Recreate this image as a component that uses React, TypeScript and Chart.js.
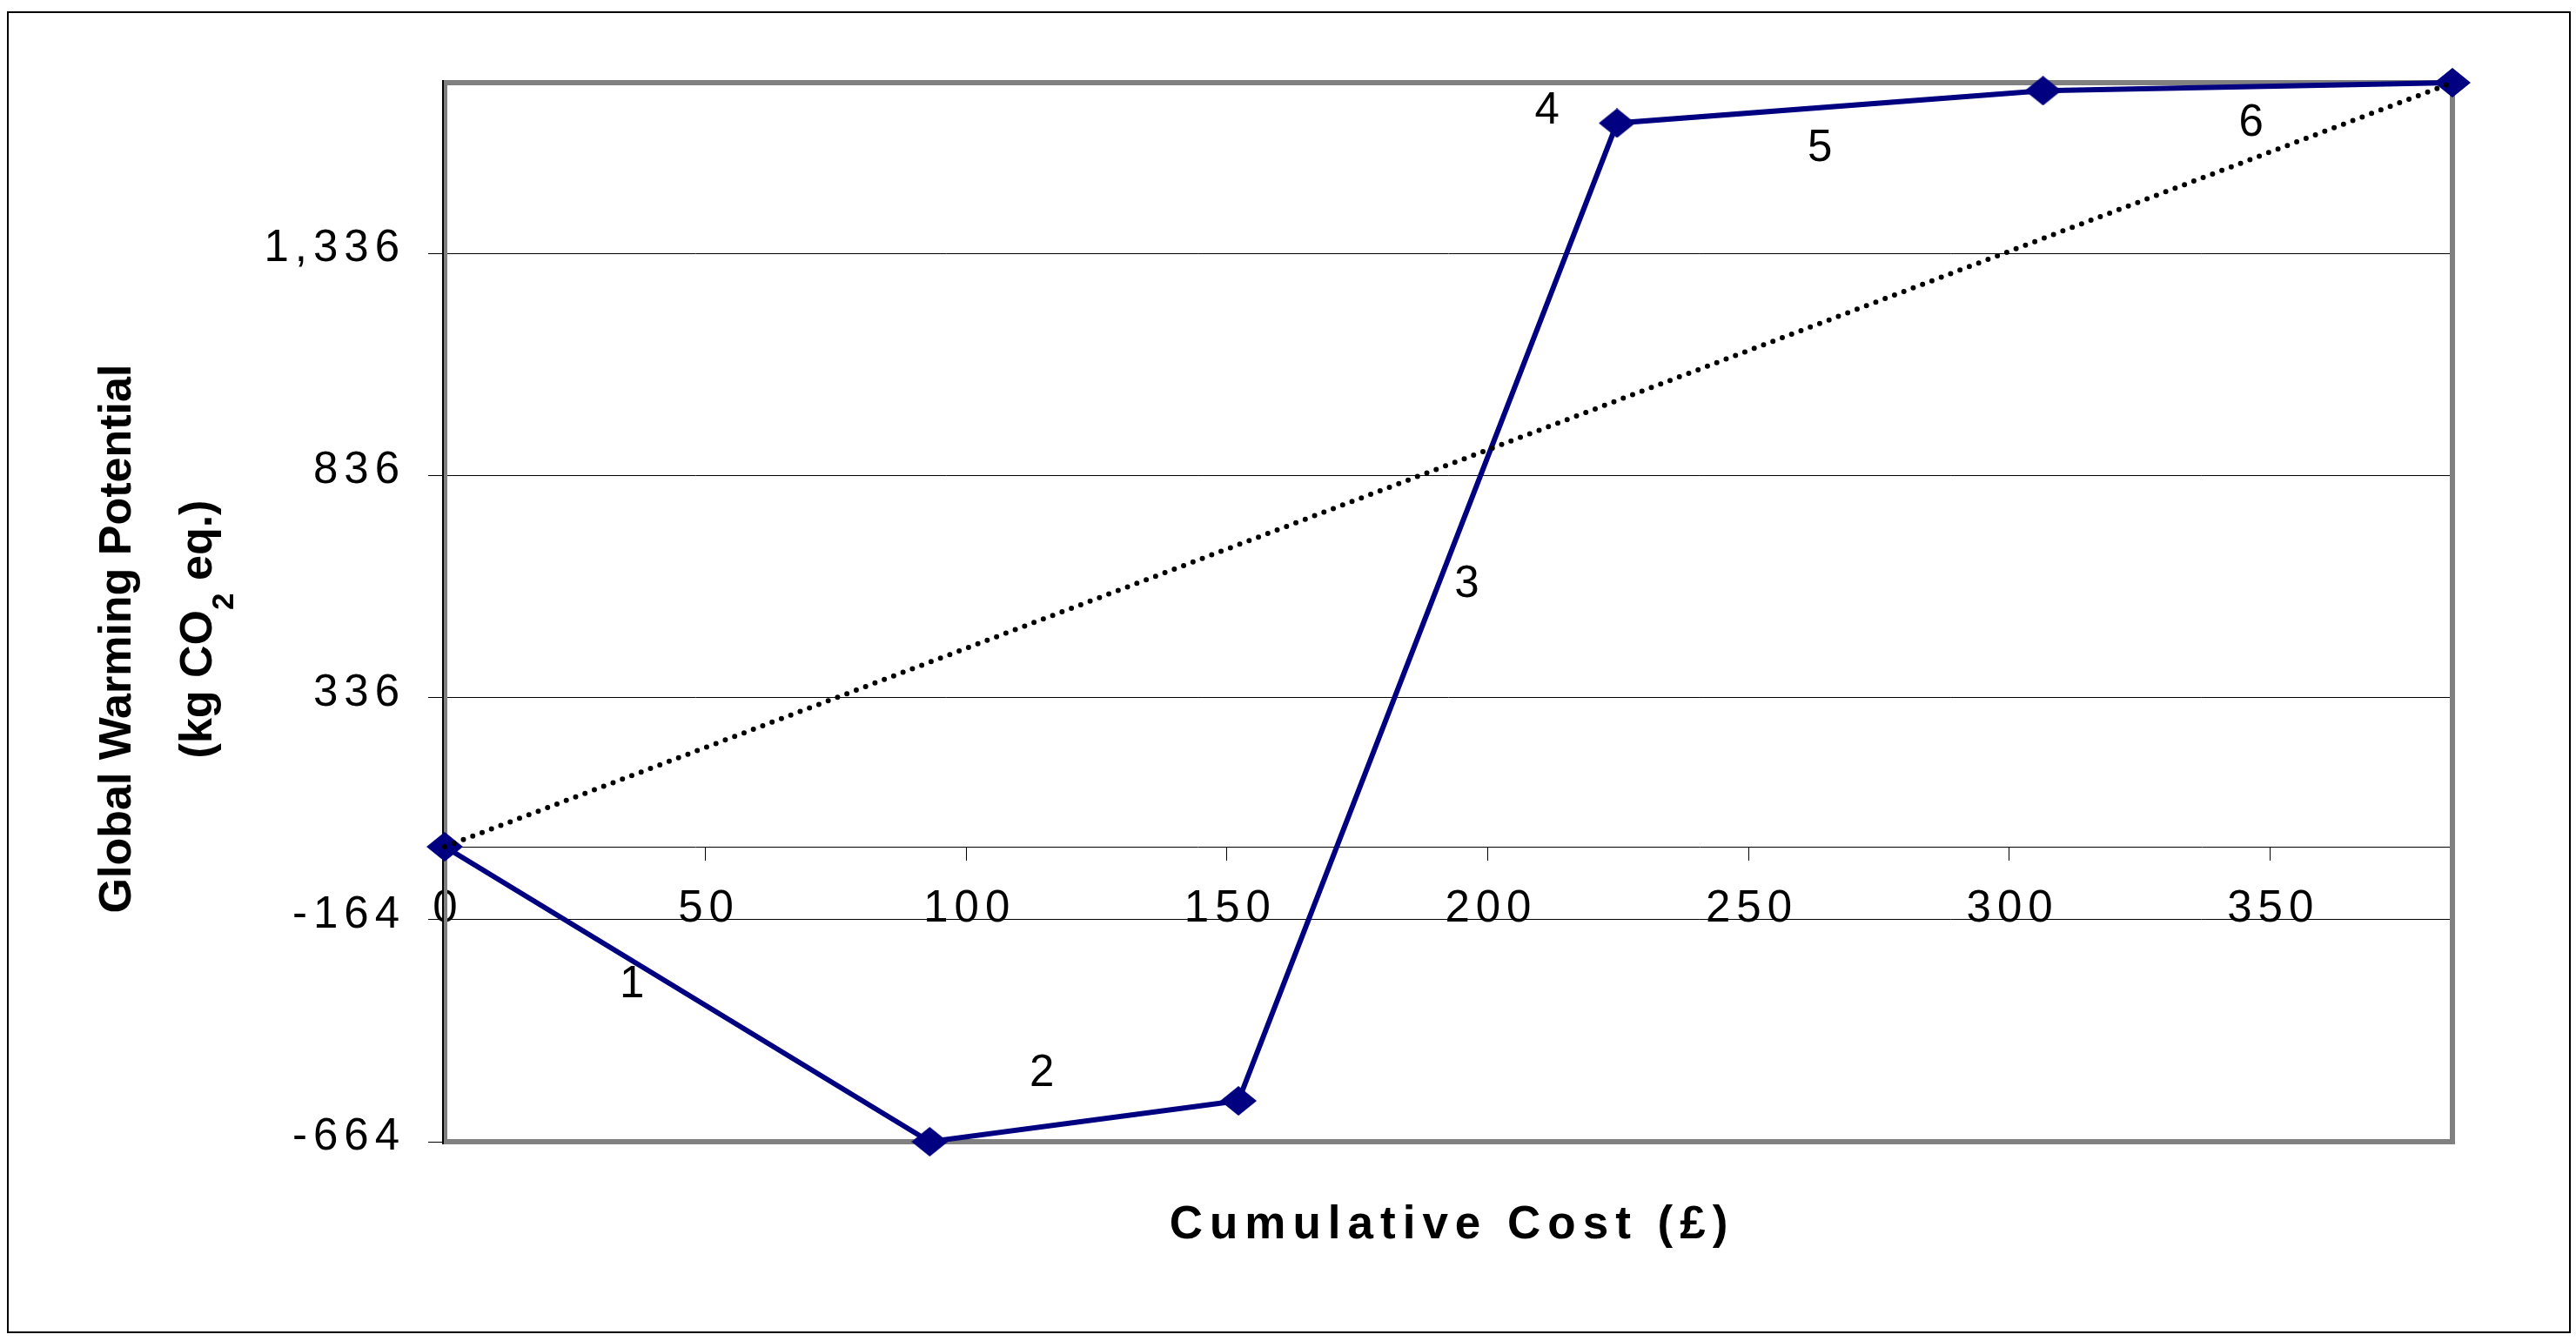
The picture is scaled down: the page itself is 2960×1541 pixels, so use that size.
import React, { useEffect, useRef } from "react";
import { Chart, registerables } from "chart.js";

Chart.register(...registerables);

// ---- Data ----
const cumulativeCost = [0, 93, 152.2, 224.8, 306.5, 385];
const globalWarming = [0, -664, -572, 1629, 1702, 1720];

const yTickValues = [-664, -164, 336, 836, 1336];
const xTickValues = [0, 50, 100, 150, 200, 250, 300, 350];

const segmentLabels = ["1", "2", "3", "4", "5", "6"];
const segmentLabelCost = [35.9, 114.5, 196, 211.4, 263.7, 346.4];
const segmentLabelGwp = [-311, -511, 589, 1655, 1571, 1628];

const xAxisTitle = "Cumulative Cost (£)";
const yAxisTitleLine1 = "Global Warming Potential";
const yAxisTitleLine2Parts = ["(kg CO", "2", " eq.)"];

const X_MIN = 0;
const X_MAX = 385;
const Y_MIN = -664;
const Y_MAX = 1720;

const FONT = '"Liberation Sans", Arial, sans-serif';

function makeDiamond(): HTMLCanvasElement {
  const c = document.createElement("canvas");
  c.width = 42;
  c.height = 34;
  const g = c.getContext("2d")!;
  g.fillStyle = "#000080";
  g.beginPath();
  g.moveTo(21, 0);
  g.lineTo(42, 17);
  g.lineTo(21, 34);
  g.lineTo(0, 17);
  g.closePath();
  g.fill();
  return c;
}

export default function App() {
  const ref = useRef<HTMLCanvasElement | null>(null);

  useEffect(() => {
    const canvas = ref.current;
    if (!canvas) return;
    document.body.style.overflow = "hidden";
    const diamond = makeDiamond();

    const backgroundPlugin = {
      id: "bgBorder",
      beforeDraw(chart: any) {
        const ctx = chart.ctx;
        ctx.save();
        ctx.fillStyle = "#ffffff";
        ctx.fillRect(0, 0, chart.width, chart.height);
        ctx.strokeStyle = "#000000";
        ctx.lineWidth = 2;
        ctx.strokeRect(9, 14, 2944, 1517);
        ctx.restore();
        (ctx as any).letterSpacing = "7px";
      },
    };

    const framePlugin = {
      id: "frame",
      beforeDatasetsDraw(chart: any) {
        const ctx = chart.ctx;
        const a = chart.chartArea;
        ctx.save();
        (ctx as any).letterSpacing = "0px";
        ctx.strokeStyle = "#808080";
        ctx.lineWidth = 6;
        ctx.strokeRect(a.left, a.top, a.right - a.left, a.bottom - a.top);
        ctx.strokeStyle = "#000000";
        ctx.lineWidth = 2;
        ctx.beginPath();
        ctx.moveTo(a.left - 2, a.top - 3);
        ctx.lineTo(a.left - 2, a.bottom + 3);
        ctx.stroke();
        ctx.restore();
      },
    };

    const textPlugin = {
      id: "texts",
      afterDatasetsDraw(chart: any) {
        const ctx = chart.ctx;
        const a = chart.chartArea;
        const xs = chart.scales.x;
        const ys = chart.scales.y;
        ctx.save();
        ctx.fillStyle = "#000000";
        (ctx as any).letterSpacing = "0px";

        // segment numbers
        ctx.font = `51px ${FONT}`;
        ctx.textAlign = "center";
        ctx.textBaseline = "middle";
        segmentLabels.forEach((t, i) => {
          ctx.fillText(
            t,
            xs.getPixelForValue(segmentLabelCost[i]),
            ys.getPixelForValue(segmentLabelGwp[i])
          );
        });

        // x axis title
        ctx.font = `bold 53px ${FONT}`;
        (ctx as any).letterSpacing = "8px";
        ctx.textAlign = "center";
        ctx.textBaseline = "alphabetic";
        ctx.fillText(xAxisTitle, (a.left + a.right) / 2 + 4, a.bottom + 111);
        (ctx as any).letterSpacing = "0px";

        // y axis title, line 1
        ctx.save();
        ctx.translate(150, 734);
        ctx.rotate(-Math.PI / 2);
        ctx.font = `bold 52px ${FONT}`;
        ctx.textAlign = "center";
        ctx.textBaseline = "alphabetic";
        ctx.fillText(yAxisTitleLine1, 0, 0);
        ctx.restore();

        // y axis title, line 2 with subscript
        ctx.save();
        ctx.translate(243, 723);
        ctx.rotate(-Math.PI / 2);
        ctx.textAlign = "left";
        ctx.textBaseline = "alphabetic";
        const mainFont = `bold 52px ${FONT}`;
        const subFont = `bold 35px ${FONT}`;
        ctx.font = mainFont;
        const w0 = ctx.measureText(yAxisTitleLine2Parts[0]).width;
        const w2 = ctx.measureText(yAxisTitleLine2Parts[2]).width;
        ctx.font = subFont;
        const w1 = ctx.measureText(yAxisTitleLine2Parts[1]).width;
        let px = -(w0 + w1 + w2) / 2;
        ctx.font = mainFont;
        ctx.fillText(yAxisTitleLine2Parts[0], px, 0);
        px += w0;
        ctx.font = subFont;
        ctx.fillText(yAxisTitleLine2Parts[1], px, 25);
        px += w1;
        ctx.font = mainFont;
        ctx.fillText(yAxisTitleLine2Parts[2], px, 0);
        ctx.restore();

        ctx.restore();
      },
    };

    const chart = new Chart(canvas, {
      type: "line",
      data: {
        datasets: [
          {
            label: "diagonal",
            data: [
              { x: cumulativeCost[0], y: globalWarming[0] },
              {
                x: cumulativeCost[cumulativeCost.length - 1],
                y: globalWarming[globalWarming.length - 1],
              },
            ],
            borderColor: "#000000",
            borderWidth: 6,
            borderDash: [0, 11.5],
            borderCapStyle: "round",
            pointRadius: 0,
            fill: false,
            clip: false as any,
            order: 0,
          },
          {
            label: "GWP",
            data: cumulativeCost.map((x, i) => ({ x, y: globalWarming[i] })),
            borderColor: "#000080",
            borderWidth: 6,
            pointStyle: diamond as any,
            pointRadius: 20,
            pointBorderWidth: 0,
            fill: false,
            clip: false as any,
            order: 1,
          },
        ],
      },
      options: {
        responsive: false,
        animation: false,
        devicePixelRatio: 1,
        events: [],
        layout: { padding: { left: 0, top: 95, right: 142, bottom: 229 } },
        plugins: {
          legend: { display: false },
          tooltip: { enabled: false },
          title: { display: false },
        },
        scales: {
          x: {
            type: "linear",
            position: { y: 0 } as any,
            min: X_MIN,
            max: X_MAX,
            afterBuildTicks: (s: any) => {
              s.ticks = xTickValues.map((v) => ({ value: v }));
            },
            grid: {
              drawOnChartArea: false,
              drawTicks: true,
              tickLength: 15,
              color: "#000000",
              tickColor: "#000000",
              lineWidth: 1,
            },
            border: { display: true, color: "#000000", width: 1 },
            ticks: {
              font: { family: FONT, size: 51 },
              color: "#000000",
              padding: 26,
              labelOffset: 4,
              maxRotation: 0,
              autoSkip: false,
            },
          },
          y: {
            type: "linear",
            position: "left",
            min: Y_MIN,
            max: Y_MAX,
            afterBuildTicks: (s: any) => {
              s.ticks = yTickValues.map((v) => ({ value: v }));
            },
            afterFit: (s: any) => {
              s.width = 511;
            },
            grid: {
              drawOnChartArea: true,
              drawTicks: true,
              tickLength: 19,
              color: "#000000",
              tickColor: "#000000",
              lineWidth: 1,
            },
            border: { display: false },
            ticks: {
              font: { family: FONT, size: 51 },
              color: "#000000",
              padding: 26,
              labelOffset: -5,
              autoSkip: false,
              callback: (v: any) => Number(v).toLocaleString("en-US"),
            },
          },
        },
      },
      plugins: [backgroundPlugin, framePlugin, textPlugin],
    });

    return () => {
      chart.destroy();
    };
  }, []);

  return (
    <div
      style={{
        position: "absolute",
        left: 0,
        top: 0,
        width: 2960,
        height: 1541,
        background: "#ffffff",
      }}
    >
      <canvas
        ref={ref}
        width={2960}
        height={1541}
        style={{ display: "block", width: 2960, height: 1541 }}
      />
    </div>
  );
}
